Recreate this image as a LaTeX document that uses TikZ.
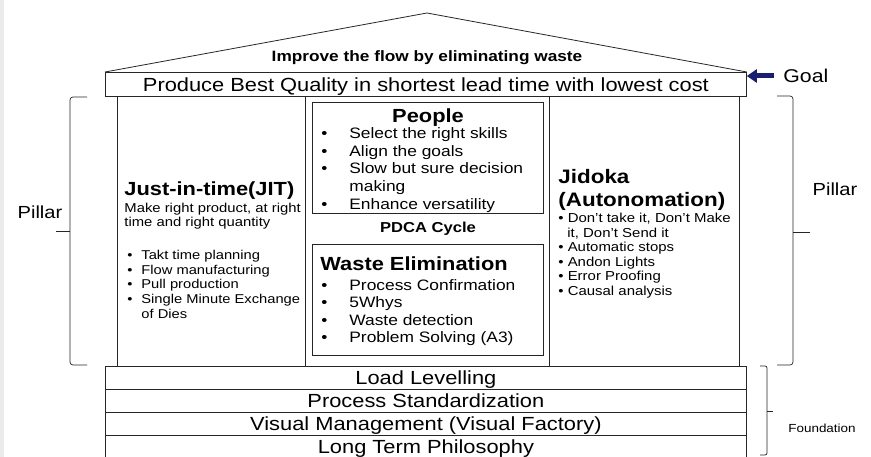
\documentclass[tikz,border=0pt]{standalone}
\usepackage{fontspec}
\setmainfont{Liberation Sans}[FakeStretch=1.15]
\usetikzlibrary{arrows.meta}
\definecolor{navyarrow}{RGB}{22,30,120}
\definecolor{stripe}{RGB}{235,235,235}
\newcommand\fsz[2]{\fontsize{#1pt}{#2pt}\selectfont}
\newcommand\bl[1]{\makebox[#1][l]{\textbullet}}
\begin{document}
\begin{tikzpicture}[x=1pt,y=-1pt,line width=0.8pt,
  every node/.style={inner sep=0pt},
  ln/.style={draw=black!85},
  wide/.style={ln,minimum width=641pt,anchor=north west,text height=13.6pt,text depth=0pt,font=\fsz{19}{22}},
  row/.style={wide,minimum height=23pt},
  col/.style={ln,anchor=north west,minimum height=270pt},
  inbox/.style={ln,anchor=north west,minimum width=231pt,minimum height=111pt},
  brace/.style={draw=black!85,line width=0.7pt,rounded corners=3pt},
  head/.style={font=\bfseries\fsz{19}{23}},
  lst/.style={align=left,anchor=base west}]
\useasboundingbox (0,0) rectangle (871,457);
\fill[stripe] (0,0) rectangle (4,457);
% roof and goal
\node[wide,minimum height=24pt] (goal) at (105,72) {Produce Best Quality in shortest lead time with lowest cost};
\coordinate (apex) at (427,13);
\draw[ln] (goal.north west) -- (apex) -- (goal.north east);
\node[font=\bfseries\fsz{15}{18},anchor=base] (title) at (427,62) {Improve the flow by eliminating waste};
% goal arrow
\node[font=\fsz{18.5}{22},anchor=west,text height=13.2pt,text depth=0pt] (goallbl) at (783,76) {Goal};
\coordinate (gA) at (774,76);
\draw[navyarrow,line width=5pt,-{Triangle[length=10pt,width=13pt]}] (gA) -- (goal.north east |- gA);
% columns
\node[col,minimum width=188pt] (jitcol) at (117,96) {};
\node[col,minimum width=244pt] (midcol) at (305,96) {};
\node[col,minimum width=190pt] (jidcol) at (549,96) {};
% foundation
\node[row] (ll) at (105,366) {Load Levelling};
\node[row] (ps) at (105,389) {Process Standardization};
\node[row] (vm) at (105,412) {Visual Management (Visual Factory)};
\node[row] (lt) at (105,435) {Long Term Philosophy};
% JIT (multi-line nodes anchored at the baseline of their last line)
\node[head,anchor=base west] (jith) at (124,196) {Just-in-time(JIT)};
\node[lst,font=\fsz{12.9}{14}] (jitd) at (124,226.5) {Make right product, at right\\time and right quantity};
\node[lst,font=\fsz{12.8}{14.75}] (jitl) at (127,318.5) {\bl{14pt}Takt time planning\\\bl{14pt}Flow manufacturing\\\bl{14pt}Pull production\\\bl{14pt}Single Minute Exchange\\\hspace*{14pt}of Dies};
% People
\node[inbox] (people) at (312,102) {};
\node[head,anchor=base] (peopleh) at (428,123) {People};
\node[lst,font=\fsz{15.1}{17.75}] (peoplel) at (321,209.5) {\bl{28pt}Select the right skills\\\bl{28pt}Align the goals\\\bl{28pt}Slow but sure decision\\\hspace*{28pt}making\\\bl{28pt}Enhance versatility};
\node[font=\bfseries\fsz{14.4}{17},anchor=base] (pdca) at (428,233) {PDCA Cycle};
% Waste
\node[inbox] (waste) at (312,244) {};
\node[head,anchor=base west] (wasteh) at (320,271) {Waste Elimination};
\node[lst,font=\fsz{15.1}{17.33}] (wastel) at (321,342.5) {\bl{28pt}Process Confirmation\\\bl{28pt}5Whys\\\bl{28pt}Waste detection\\\bl{28pt}Problem Solving (A3)};
% Jidoka
\node[lst,font=\bfseries\fsz{19.5}{23}] (jidh) at (558,207) {Jidoka\\(Autonomation)};
\node[lst,font=\fsz{13}{14.6}] (jidl) at (558,295.5) {\textbullet{} Don’t take it, Don’t Make\\\hspace*{9pt}it, Don’t Send it\\\textbullet{} Automatic stops\\\textbullet{} Andon Lights\\\textbullet{} Error Proofing\\\textbullet{} Causal analysis};
% braces
\draw[brace] (87,97) -- (70,97) -- (70,365) -- (87,365);
\coordinate (lt1) at (70,231);
\coordinate (lt2) at (56,231);
\draw[brace] (lt1) -- (lt2);
\node[font=\fsz{17.5}{21}] (pillarL) at (40,212) {Pillar};
\draw[brace] (777,96) -- (793,96) -- (793,365) -- (777,365);
\coordinate (rt1) at (793,232);
\coordinate (rt2) at (810,232);
\draw[brace] (rt1) -- (rt2);
\node[font=\fsz{17.5}{21}] (pillarR) at (835,189) {Pillar};
\draw[brace,rounded corners=2pt] (760,366) -- (767,366) -- (767,455) -- (760,455);
\coordinate (ft1) at (767,411);
\coordinate (ft2) at (773,411);
\draw[brace] (ft1) -- (ft2);
\node[font=\fsz{11.7}{14}] (foundl) at (822,428) {Foundation};
\end{tikzpicture}
\end{document}
